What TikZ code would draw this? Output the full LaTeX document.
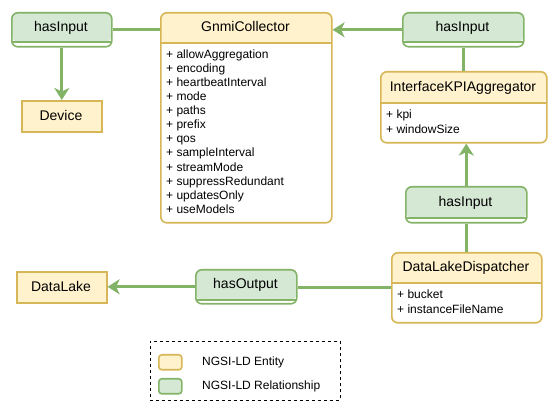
\documentclass[tikz,border=0pt]{standalone}
\usepackage{fontspec}
\setmainfont{Liberation Sans}
\usetikzlibrary{arrows.meta}
\definecolor{gfill}{HTML}{D5E8D4}
\definecolor{gstroke}{HTML}{82B366}
\definecolor{yfill}{HTML}{FFF2CC}
\definecolor{ystroke}{HTML}{D6B656}
\tikzset{
  cls/.style n args={4}{draw=#4stroke, fill=white, line width=1.6pt, rounded corners=6pt,
    inner sep=0pt, anchor=north west, minimum width=#1, minimum height=#2,
    path picture={
      \fill[#4fill] (path picture bounding box.north west) rectangle ([yshift=-#3]path picture bounding box.north east);
      \draw[#4stroke, line width=1.6pt] ([yshift=-#3]path picture bounding box.north west) -- ([yshift=-#3]path picture bounding box.north east);
    }},
  plainent/.style 2 args={draw=ystroke, fill=yfill, line width=1.6pt, inner sep=0pt,
    anchor=north west, minimum width=#1, minimum height=#2},
  lbl/.style={font=\fontsize{14}{16.8}\selectfont, inner sep=0pt, anchor=base},
  attr/.style={font=\fontsize{12}{14.1}\selectfont, inner sep=0pt, anchor=base west},
  legtext/.style={font=\fontsize{12}{14}\selectfont, inner sep=0pt, anchor=base west},
  conn/.style={draw=gstroke, line width=3pt},
  arr/.style={conn, -{Stealth[length=12pt,width=15pt,inset=3.5pt]}},
}
\begin{document}
\begin{tikzpicture}[x=1pt,y=-1pt]
\useasboundingbox (0,0) rectangle (557,411);

% relationships
\node[cls={100pt}{34pt}{29pt}{g}] (hin1) at (11,12) {};
\node[lbl] (hin1t) at (61,31.5) {hasInput};
\node[cls={121pt}{34pt}{29pt}{g}] (hin2) at (402,12) {};
\node[lbl] (hin2t) at (462.5,31.5) {hasInput};
\node[cls={121pt}{36pt}{31pt}{g}] (hin3) at (405,186) {};
\node[lbl] (hin3t) at (465.5,206.5) {hasInput};
\node[cls={101pt}{34pt}{30pt}{g}] (hout) at (195,269) {};
\node[lbl] (houtt) at (245.5,289) {hasOutput};

% entities
\node[plainent={80pt}{31pt}] (device) at (21,100) {};
\node[lbl] (devicet) at (61,120.5) {Device};
\node[plainent={90pt}{31pt}] (datalake) at (16,271) {};
\node[lbl] (datalaket) at (61,291.5) {DataLake};

\node[cls={171pt}{210pt}{30pt}{y}] (gnmi) at (160,12) {};
\node[lbl] (gnmit) at (245.5,32) {GnmiCollector};
\foreach \t [count=\i] in {allowAggregation,encoding,heartbeatInterval,mode,paths,prefix,qos,sampleInterval,streamMode,suppressRedundant,updatesOnly,useModels}
  \node[attr] (ga\i) at (166,{58.3+14.09*(\i-1)}) {+ \t};

\node[cls={166pt}{71pt}{31pt}{y}] (ika) at (380,71) {};
\node[lbl] (ikat) at (463,92) {InterfaceKPIAggregator};
\node[attr] (ia1) at (386,119) {+ kpi};
\node[attr] (ia2) at (386,133.1) {+ windowSize};

\node[cls={150pt}{70pt}{30pt}{y}] (dld) at (391,252) {};
\node[lbl] (dldt) at (466,272) {DataLakeDispatcher};
\node[attr] (da1) at (397,299) {+ bucket};
\node[attr] (da2) at (397,313.1) {+ instanceFileName};

% connectors
\draw[arr] (hin1.south) -- (device.north);
\draw[conn] (hin1.east) -- (hin1.east -| gnmi.west);
\draw[arr] (hin2.west) -- (hin2.west -| gnmi.east);
\draw[conn] (hin2.south) -- (hin2.south |- ika.north);
\draw[arr] (hin3.north) -- (hin3.north |- ika.south);
\draw[conn] (dld.north) -- (dld.north |- hin3.south);
\draw[conn] (dld.west) -- (dld.west -| hout.east);
\draw[arr] (hout.west) -- (hout.west -| datalake.east);

% legend
\node[draw=black, dashed, line width=0.8pt, minimum width=190pt, minimum height=59pt, anchor=north west, inner sep=0pt] (legend) at (150,341) {};
\node[draw=ystroke, fill=yfill, line width=1.6pt, rounded corners=3pt, minimum width=23pt, minimum height=15pt, inner sep=0pt, anchor=north west] (lent) at (158,354) {};
\node[draw=gstroke, fill=gfill, line width=1.6pt, rounded corners=3pt, minimum width=23pt, minimum height=15pt, inner sep=0pt, anchor=north west] (lrel) at (158,378) {};
\node[legtext] (lentt) at (202,365.5) {NGSI-LD Entity};
\node[legtext] (lrelt) at (202,389.5) {NGSI-LD Relationship};
\end{tikzpicture}
\end{document}
